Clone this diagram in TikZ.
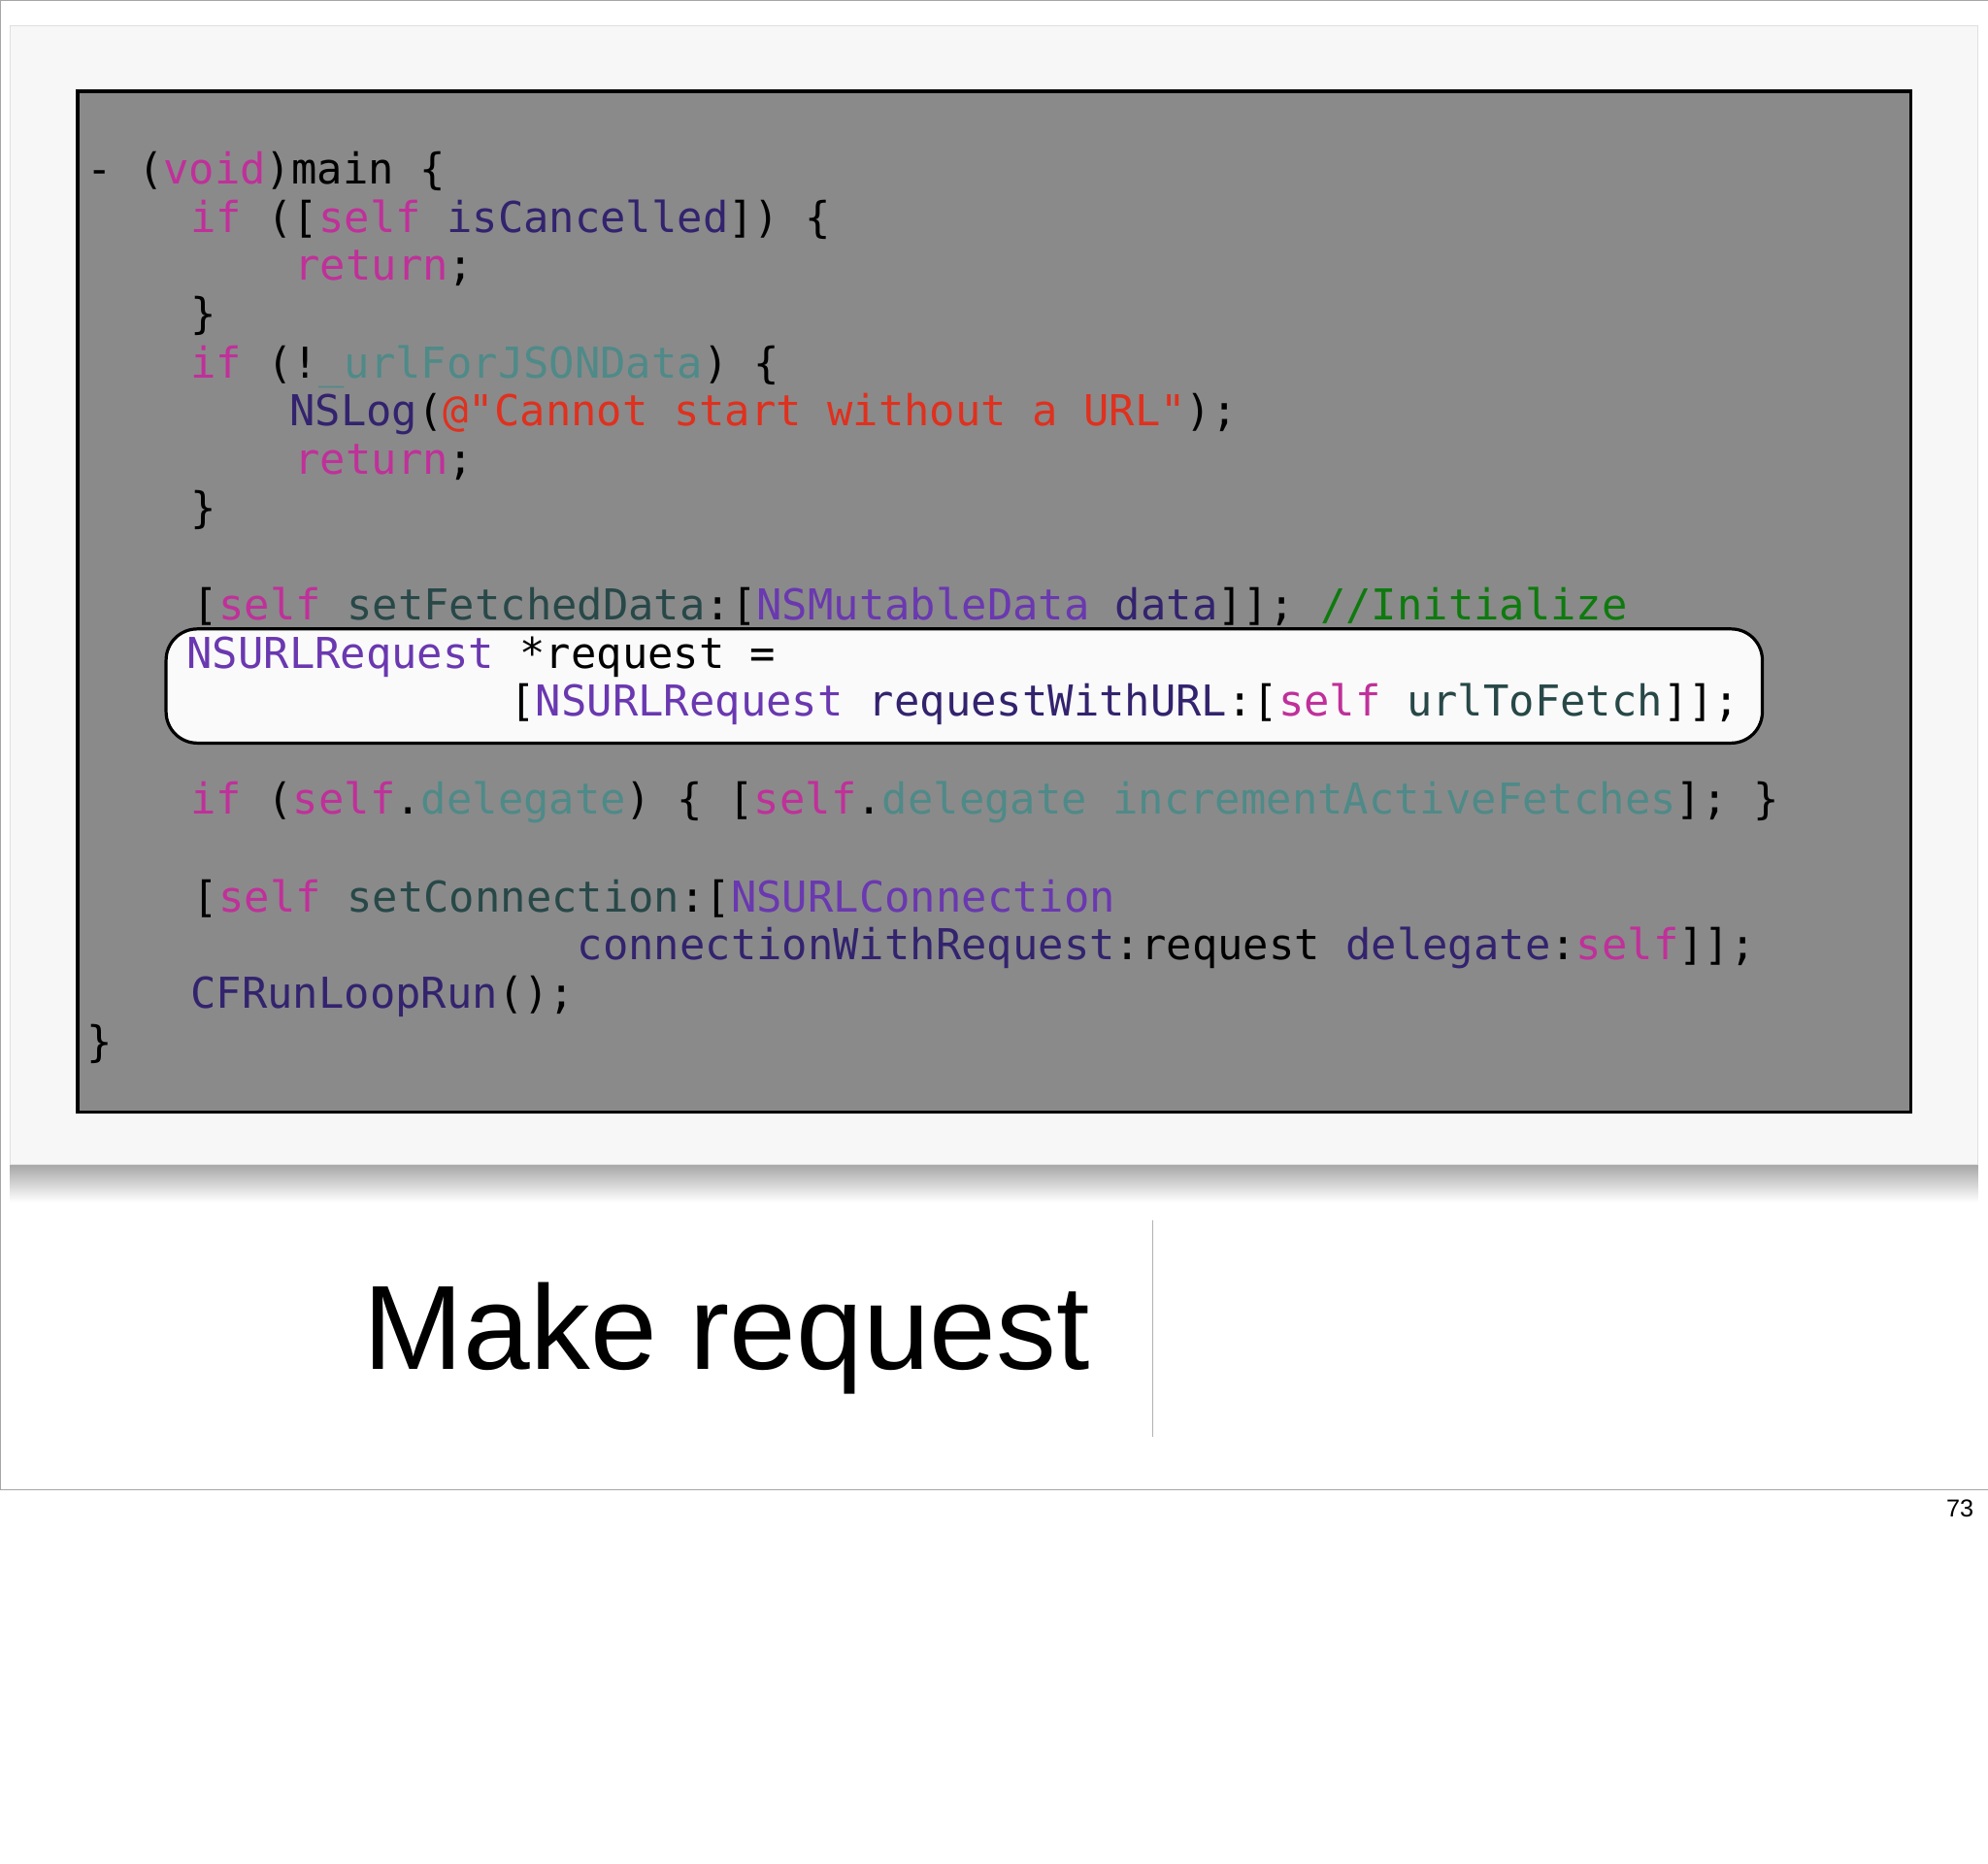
\documentclass[tikz,border=0pt]{standalone}
\usepackage{fontspec}
\setmainfont{Liberation Sans}
\setmonofont{DejaVu Sans Mono}
\definecolor{kwpink}{HTML}{C0309A}
\definecolor{clspurple}{HTML}{6A38B0}
\definecolor{mthpurple}{HTML}{33236E}
\definecolor{ivteal}{HTML}{4E8A88}
\definecolor{mthteal}{HTML}{284848}
\definecolor{strred}{HTML}{E0301E}
\definecolor{cmtgreen}{HTML}{0E7A0E}
\definecolor{panelgray}{HTML}{8A8A8A}
\newcommand{\kw}[1]{\textcolor{kwpink}{#1}}
\newcommand{\cls}[1]{\textcolor{clspurple}{#1}}
\newcommand{\mth}[1]{\textcolor{mthpurple}{#1}}
\newcommand{\iv}[1]{\textcolor{ivteal}{#1}}
\newcommand{\mtl}[1]{\textcolor{mthteal}{#1}}
\newcommand{\str}[1]{\textcolor{strred}{#1}}
\newcommand{\cmt}[1]{\textcolor{cmtgreen}{#1}}
\begin{document}
\begin{tikzpicture}[
  x=0.02cm, y=-0.02cm,
  codeline/.style={anchor=base west, inner sep=0pt, font=\ttfamily\fontsize{19.1}{23}\selectfont}
]
\useasboundingbox (0,0) rectangle (1568,1470);
\fill[white] (0,0) rectangle (1568,1470);

% ---------------- slide frame and card ----------------
\draw[gray!70, thin] (0,0) rectangle (1568,1175);
\shade[top color=gray!70, bottom color=white] (8,918) rectangle (1560,948);
\fill[gray!6] (8,20) rectangle (1560,918);
\draw[gray!25] (8,20) rectangle (1560,918);
\fill[panelgray] (61,72) rectangle (1507,877);
\draw[black, line width=1.6pt] (61,72) rectangle (1507,877);

% ---------------- highlighted statement ----------------
\draw[black, line width=1.4pt, fill=gray!4, rounded corners=14pt] (131,496) rectangle (1390,586);

% ---------------- code ----------------
\node[codeline] (l1) at (68,145) {- (\kw{void})main \{};
\node[codeline] (l2) at (150,183) {\kw{if} ([\kw{self} \mth{isCancelled}]) \{};
\node[codeline] (l3) at (232,221) {\kw{return};};
\node[codeline] (l4) at (150,259) {\}};
\node[codeline] (l5) at (150,298) {\kw{if} (!\iv{\_urlForJSONData}) \{};
\node[codeline] (l6) at (228,336) {\mth{NSLog}(\str{@"Cannot start without a URL"});};
\node[codeline] (l7) at (232,374) {\kw{return};};
\node[codeline] (l8) at (150,412) {\}};
\node[codeline] (l9) at (152,489) {[\kw{self} \mtl{setFetchedData}:[\cls{NSMutableData} \mth{data}]]; \cmt{//Initialize}};
\node[codeline] (l10) at (147,527) {\cls{NSURLRequest} *request =};
\node[codeline] (l11) at (402,565) {[\cls{NSURLRequest} \mth{requestWithURL}:[\kw{self} \mtl{urlToFetch}]];};
\node[codeline] (l12) at (150,642) {\kw{if} (\kw{self}.\iv{delegate}) \{ [\kw{self}.\iv{delegate} \iv{incrementActiveFetches}]; \}};
\node[codeline] (l13) at (152,719) {[\kw{self} \mtl{setConnection}:[\cls{NSURLConnection}};
\node[codeline] (l14) at (455,757) {\mth{connectionWithRequest}:request \mth{delegate}:\kw{self}]];};
\node[codeline] (l15) at (150,795) {\mth{CFRunLoopRun}();};
\node[codeline] (l16) at (68,833) {\}};

% ---------------- title ----------------
\node[anchor=base east, inner sep=0pt, font=\fontsize{53.8}{64}\selectfont] (title) at (860,1080) {Make request};
\draw[gray!60] (909,962) -- (909,1133);
\node[anchor=base east, inner sep=0pt, font=\fontsize{11}{13}\selectfont] (pagenum) at (1557,1196) {73};
\end{tikzpicture}
\end{document}
